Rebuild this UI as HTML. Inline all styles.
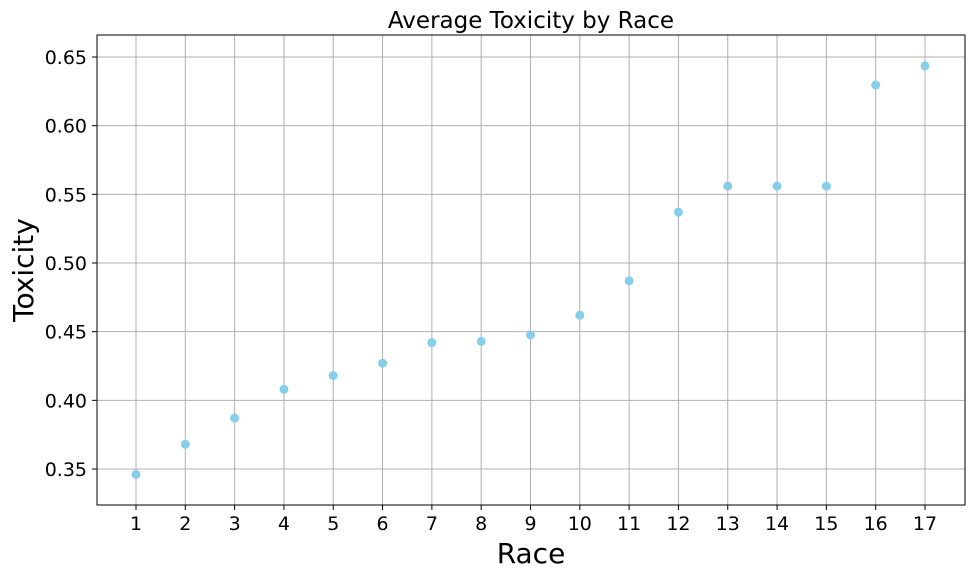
<!DOCTYPE html>
<html><head><meta charset="utf-8"><style>
html,body{margin:0;padding:0;background:#fff;}
svg text{font-family:"DejaVu Sans","Liberation Sans",sans-serif;fill:#000;}
</style></head><body>
<svg id="chart" width="978" height="577" viewBox="0 0 978 577">
<text x="531" y="28" font-size="23" text-anchor="middle">Average Toxicity by Race</text>
<text x="531" y="563" font-size="28" text-anchor="middle">Race</text>
<text transform="translate(33,270) rotate(-90)" font-size="28" text-anchor="middle">Toxicity</text>
<g id="grid"></g>
<g id="xticks"></g>
<g id="yticks"></g>
<g id="points"></g>
<rect x="97" y="35" width="868" height="470" fill="none" stroke="#000" stroke-width="1"/>
</svg>
<script>
const categories = [1,2,3,4,5,6,7,8,9,10,11,12,13,14,15,16,17];
const toxicity = [0.346,0.368,0.387,0.408,0.418,0.427,0.442,0.443,0.4476,0.462,0.487,0.537,0.556,0.556,0.556,0.6296,0.6435];
const yTicks = [0.35,0.40,0.45,0.50,0.55,0.60,0.65];
const yTickLabels = ["0.35","0.40","0.45","0.50","0.55","0.60","0.65"];

const NS = "http://www.w3.org/2000/svg";
const L = 97, R = 965, T = 35, B = 505;
function xScale(i){ return 136 + i * (925 - 136) / (categories.length - 1); }
function yScale(v){ return 469 - (v - 0.35) * (469 - 57) / 0.30; }
function mk(tag, attrs, parent){ const e = document.createElementNS(NS, tag); for (const k in attrs) e.setAttribute(k, attrs[k]); parent.appendChild(e); return e; }
const grid = document.getElementById('grid'), xt = document.getElementById('xticks'), yt = document.getElementById('yticks'), pts = document.getElementById('points');

categories.forEach((c, i) => {
  const x = xScale(i);
  const g = mk('line', {x1:x, x2:x, y1:T, y2:B, stroke:'#b0b0b0', 'stroke-width':1}, grid);
  
  
  const t = mk('line', {x1:x, x2:x, y1:B, y2:B+5, stroke:'#000'}, xt);
  
  
  const lb = mk('text', {x:x, y:B+25, 'font-size':19, 'text-anchor':'middle'}, xt);
  lb.textContent = c;
  
  
});
yTicks.forEach((v, i) => {
  const y = yScale(v);
  const g = mk('line', {x1:L, x2:R, y1:y, y2:y, stroke:'#b0b0b0', 'stroke-width':1}, grid);
  
  
  const t = mk('line', {x1:L-5, x2:L, y1:y, y2:y, stroke:'#000'}, yt);
  
  
  const lb = mk('text', {x:L-10, y:y+7, 'font-size':19, 'text-anchor':'end'}, yt);
  lb.textContent = yTickLabels[i];
  
  
});
toxicity.forEach((v, i) => {
  const p = mk('circle', {cx:xScale(i), cy:yScale(v), r:4.5, fill:'#87ceeb'}, pts);
  
  
});
</script>
</body></html>
